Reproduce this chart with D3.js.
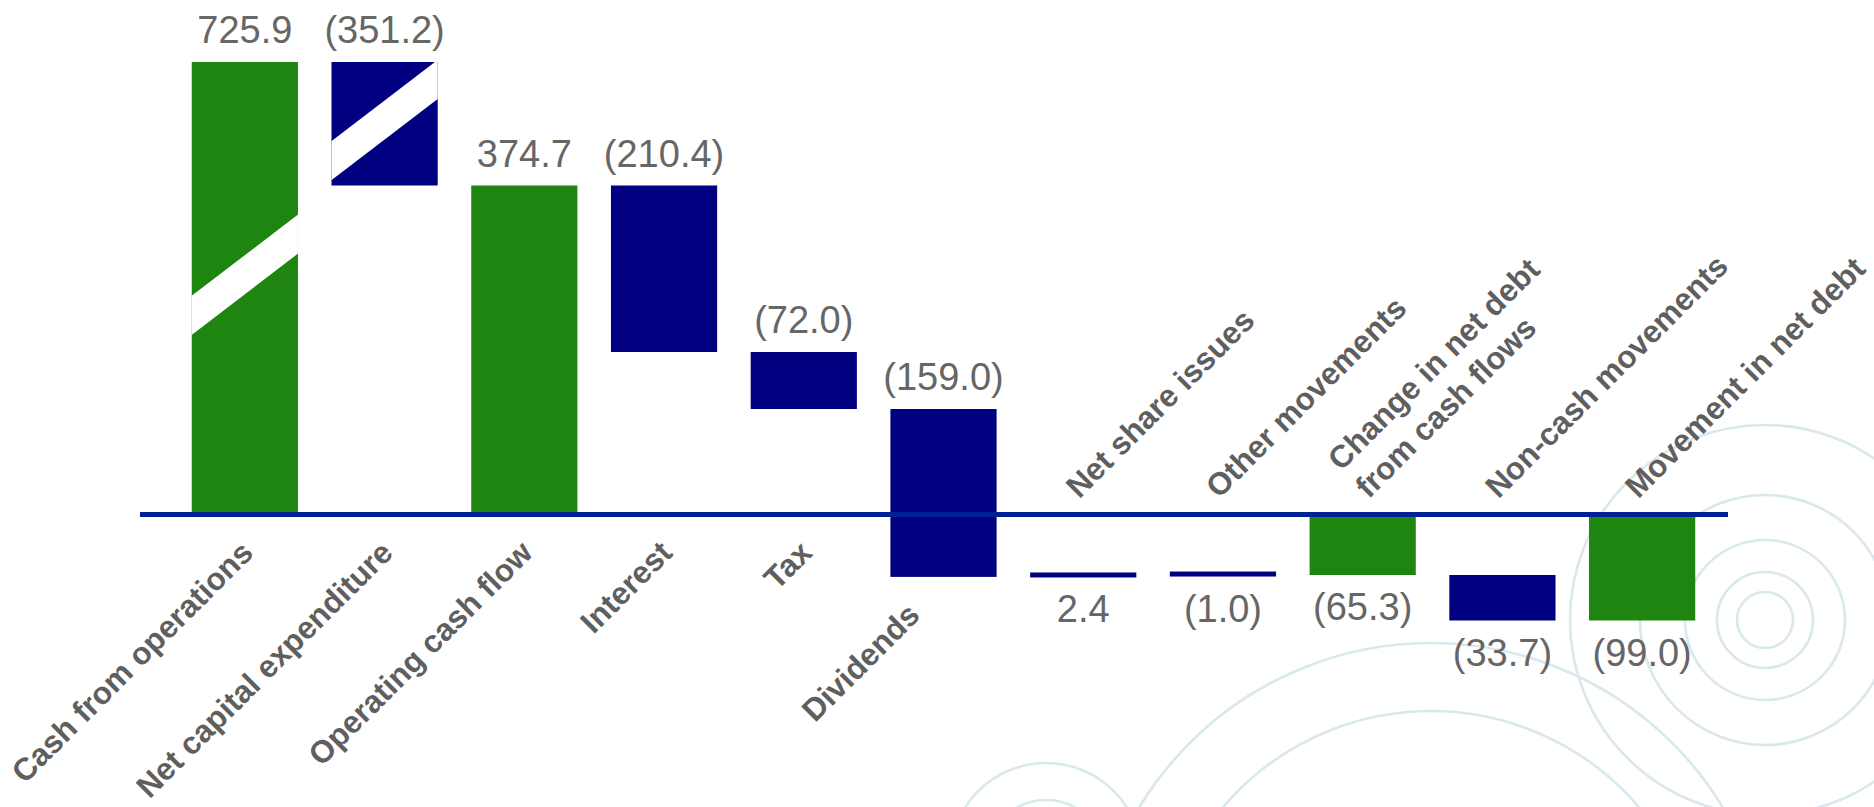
<!DOCTYPE html>
<html>
<head>
<meta charset="utf-8">
<script src="https://cdn.jsdelivr.net/npm/d3@7"></script>
<style>
  html, body { margin: 0; padding: 0; background: #ffffff; }
  svg { display: block; }
</style>
</head>
<body>
<svg id="chart" width="1874" height="807"></svg>
<script>
// ---------------- data ----------------
const categories = [
  "Cash from operations",
  "Net capital expenditure",
  "Operating cash flow",
  "Interest",
  "Tax",
  "Dividends",
  "Net share issues",
  "Other movements",
  "Change in net debt\nfrom cash flows",
  "Non-cash movements",
  "Movement in net debt"
];
const values  = [725.9, -351.2, 374.7, -210.4, -72.0, -159.0, 2.4, -1.0, -65.3, -33.7, -99.0];
const isTotal = [true, false, true, false, false, false, false, false, true, false, true];
const broken  = [true, true, false, false, false, false, false, false, false, false, false];

// axis knots of the (compressed / broken) value axis
const yKnots = [-99.0, -65.3, 0, 92.3, 374.7, 725.9];

// ---------------- layout ----------------
const W = 1874, H = 807;
const svg = d3.select("#chart");
svg.append("rect").attr("width", W).attr("height", H).attr("fill", "#ffffff");

// background decoration (concentric rings)
const rings = [
  {cx: 1765, cy: 620, r: [28, 48, 80, 125, 195]},
  {cx: 1431, cy: 984, r: [273, 341]},
  {cx: 1046, cy: 859, r: [59, 96]}
];
const deco = svg.append("g");
rings.forEach(g => g.r.forEach(r => {
  deco.append("circle").attr("cx", g.cx).attr("cy", g.cy).attr("r", r)
    .attr("fill", "none").attr("stroke", "#d9e8ec").attr("stroke-width", 2.6);
}));

// waterfall running totals
let running = 0;
const data = categories.map((c, i) => {
  let start, end;
  if (isTotal[i]) { start = 0; end = values[i]; }
  else { start = running; end = running + values[i]; }
  running = end;
  return {cat: c, i, value: values[i], start, end, total: isTotal[i], broken: broken[i]};
});

const x = d3.scaleBand().domain(categories).range([175, 1712])
  .paddingInner(0.24).paddingOuter(0.12);
const y = d3.scaleLinear().domain(yKnots)
  .range([620.5, 575, 514.5, 409, 185.5, 62]);

const green = "#1e8510", navy = "#000080";
const fmt = v => v < 0 ? "(" + d3.format(".1f")(-v) + ")" : d3.format(".1f")(v);
const y0 = y(0);

const defs = svg.append("defs");
const barsG = svg.append("g");

data.forEach(d => {
  const yA = y(Math.max(d.start, d.end));
  const yB = y(Math.min(d.start, d.end));
  let top = yA, h = yB - yA;
  if (h < 5) { top = (yA + yB) / 2 - 3; h = 5; }
  d.top = top; d.bottom = top + h;
  d.x0 = x(d.cat); d.x1 = d.x0 + x.bandwidth(); d.cx = d.x0 + x.bandwidth() / 2;
  barsG.append("rect")
    .attr("x", d.x0).attr("y", top).attr("width", x.bandwidth()).attr("height", h)
    .attr("fill", d.total ? green : navy);

  if (d.broken) {
    const id = "clip" + d.i;
    defs.append("clipPath").attr("id", id).append("rect")
      .attr("x", d.x0).attr("y", top).attr("width", x.bandwidth()).attr("height", h);
    const yc = top + h * 0.47;
    const half = x.bandwidth() / 2 + 12;
    const slope = 0.765;
    barsG.append("line")
      .attr("clip-path", "url(#" + id + ")")
      .attr("x1", d.cx - half).attr("y1", yc + half * slope)
      .attr("x2", d.cx + half).attr("y2", yc - half * slope)
      .attr("stroke", "#ffffff").attr("stroke-width", 31);
  }
});

// baseline
svg.append("line")
  .attr("x1", 140).attr("x2", 1728).attr("y1", y0).attr("y2", y0)
  .attr("stroke", "#002196").attr("stroke-width", 5);

// value labels
const labelsG = svg.append("g")
  .attr("font-family", "'Liberation Sans', Arial, sans-serif")
  .attr("font-size", 38).attr("fill", "#666666").attr("text-anchor", "middle");
data.forEach(d => {
  const above = Math.max(d.start, d.end) > 0;
  labelsG.append("text")
    .attr("x", d.cx)
    .attr("y", above ? d.top - 19 : d.bottom + 45)
    .text(fmt(d.value));
});

// category labels
const catG = svg.append("g")
  .attr("font-family", "'Liberation Sans', Arial, sans-serif")
  .attr("font-size", 31.5).attr("font-weight", "bold").attr("fill", "#5f5f5f");
const LH = 39;
data.forEach(d => {
  const lines = d.cat.split("\n");
  const n = lines.length;
  const above = Math.max(d.start, d.end) <= 0;
  let tx, ty, anchor;
  if (above) {
    tx = d.cx - 4 + (n - 1) * 10; ty = y0 - 15; anchor = "start";
  } else {
    const hangs = d.bottom > y0 + 1;
    tx = d.cx + (hangs ? -22 : 10); ty = Math.max(y0, d.bottom) + 40; anchor = "end";
  }
  const t = catG.append("text")
    .attr("transform", `translate(${tx},${ty}) rotate(-45)`)
    .attr("text-anchor", anchor);
  lines.forEach((ln, k) => {
    t.append("tspan").attr("x", 0)
      .attr("y", above ? -(n - 1 - k) * LH : k * LH)
      .text(ln);
  });
});
</script>
</body>
</html>
